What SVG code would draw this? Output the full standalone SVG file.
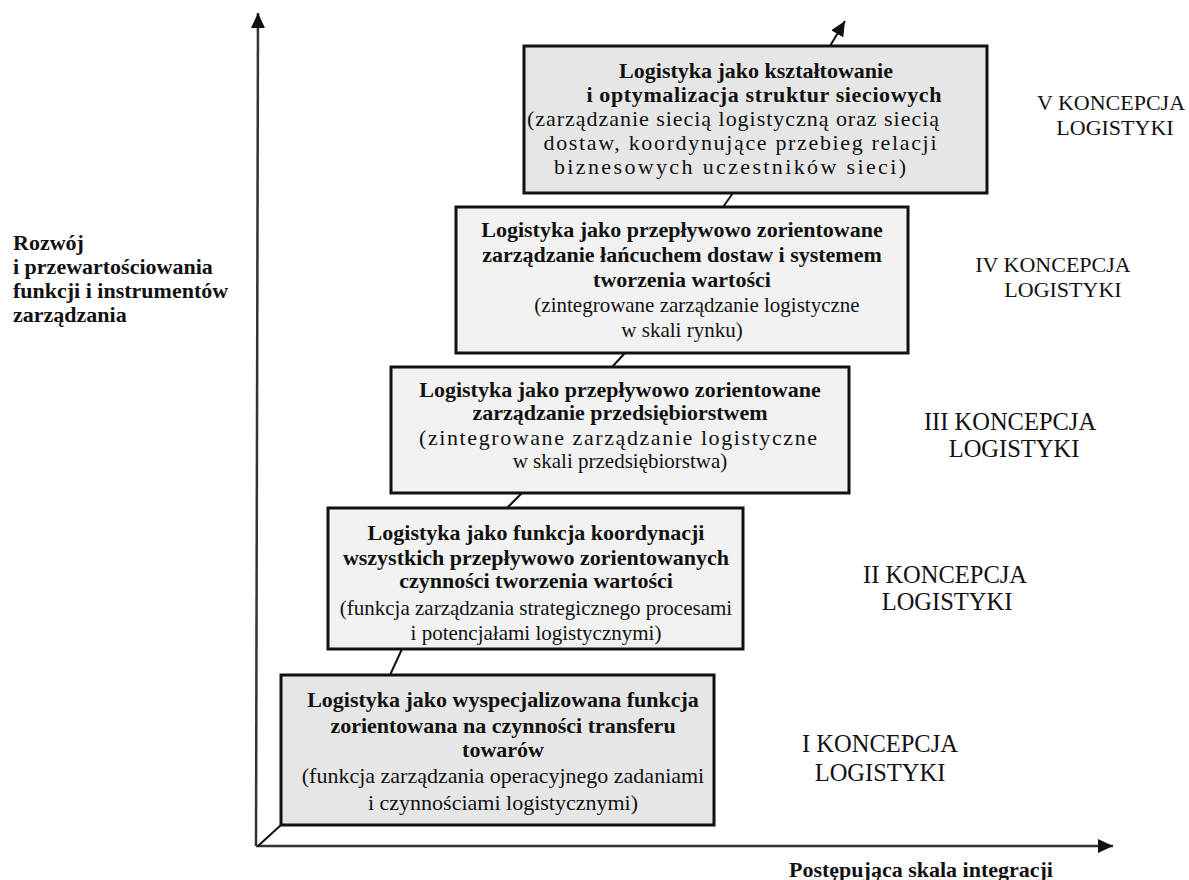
<svg xmlns="http://www.w3.org/2000/svg" width="1189" height="880" viewBox="0 0 1189 880">
<style>
.box{stroke:#111;stroke-width:3}
.dark{fill:#e6e6e6}
.light{fill:#f2f2f2}
.b{font-family:"Liberation Serif","Times New Roman",serif;font-weight:bold;font-size:22px;fill:#111;text-anchor:middle}
.r{font-family:"Liberation Serif","Times New Roman",serif;font-size:21px;fill:#111;text-anchor:middle}
.rv{font-family:"Liberation Serif","Times New Roman",serif;font-size:22px;fill:#111;text-anchor:middle}
.lab{font-family:"Liberation Serif","Times New Roman",serif;font-size:22px;fill:#111;text-anchor:middle}
.lab2{font-family:"Liberation Serif","Times New Roman",serif;font-size:24.5px;fill:#111;text-anchor:middle}
.ax{font-family:"Liberation Serif","Times New Roman",serif;font-weight:bold;font-size:22px;fill:#111}
.axl{stroke:#333;stroke-width:2.5;fill:none}
.con{stroke:#111;stroke-width:2;fill:none}
</style>
<defs>
<marker id="ah" markerUnits="userSpaceOnUse" markerWidth="16" markerHeight="16" refX="15" refY="7" orient="auto">
<path d="M0,0 L15,7 L0,14 Z" fill="#111"/>
</marker>
</defs>

<g id="axes">
<line class="axl" x1="256" y1="846" x2="258" y2="13" marker-end="url(#ah)"/>
<line class="axl" x1="256" y1="846" x2="1113" y2="846" marker-end="url(#ah)"/>
</g>

<g id="connectors">
<line class="con" x1="258" y1="846" x2="281" y2="825"/>
<line class="con" x1="390" y1="675" x2="402" y2="649"/>
<line class="con" x1="507" y1="508" x2="522" y2="493"/>
<line class="con" x1="612" y1="367" x2="625" y2="353"/>
<line class="con" x1="723" y1="207" x2="733" y2="193"/>
<line class="con" x1="830" y1="46" x2="845" y2="21" marker-end="url(#ah)"/>
</g>

<g id="box1">
<rect class="box dark" x="281" y="675" width="433" height="150"/>
<text class="b" x="503" y="707">Logistyka jako wyspecjalizowana funkcja</text>
<text class="b" x="503" y="733">zorientowana na czynności transferu</text>
<text class="b" x="503" y="757">towarów</text>
<text class="r" x="503" y="783" style="font-size:22px">(funkcja zarządzania operacyjnego zadaniami</text>
<text class="r" x="503" y="810" style="font-size:22px">i czynnościami logistycznymi)</text>
</g>

<g id="box2">
<rect class="box light" x="328" y="508" width="415" height="141"/>
<text class="b" x="536" y="540">Logistyka jako funkcja koordynacji</text>
<text class="b" x="536" y="565">wszystkich przepływowo zorientowanych</text>
<text class="b" x="536" y="588">czynności tworzenia wartości</text>
<text class="r" x="536" y="615">(funkcja zarządzania strategicznego procesami</text>
<text class="r" x="536" y="640">i potencjałami logistycznymi)</text>
</g>

<g id="box3">
<rect class="box light" x="391" y="367" width="458" height="126"/>
<text class="b" x="620" y="397">Logistyka jako przepływowo zorientowane</text>
<text class="b" x="620" y="420">zarządzanie przedsiębiorstwem</text>
<text class="r" x="618" y="445" style="font-size:22px" textLength="398">(zintegrowane zarządzanie logistyczne</text>
<text class="r" x="620" y="468">w skali przedsiębiorstwa)</text>
</g>

<g id="box4">
<rect class="box light" x="456" y="207" width="452" height="146"/>
<text class="b" x="682" y="237">Logistyka jako przepływowo zorientowane</text>
<text class="b" x="682" y="262">zarządzanie łańcuchem dostaw i systemem</text>
<text class="b" x="682" y="287">tworzenia wartości</text>
<text class="r" x="697" y="312">(zintegrowane zarządzanie logistyczne</text>
<text class="r" x="682" y="337">w skali rynku)</text>
</g>

<g id="box5">
<rect class="box dark" x="524" y="46" width="463" height="147"/>
<text class="b" x="756" y="78">Logistyka jako kształtowanie</text>
<text class="b" x="764" y="102" textLength="355">i optymalizacja struktur sieciowych</text>
<text class="rv" x="733" y="126" textLength="412">(zarządzanie siecią logistyczną oraz siecią</text>
<text class="rv" x="740" y="150" textLength="393">dostaw, koordynujące przebieg  relacji</text>
<text class="rv" x="730" y="174" textLength="352">biznesowych uczestników sieci)</text>
</g>

<g id="label-y">
<text class="ax" x="13" y="250">Rozwój</text>
<text class="ax" x="13" y="274">i przewartościowania</text>
<text class="ax" x="13" y="298">funkcji i instrumentów</text>
<text class="ax" x="13" y="322">zarządzania</text>
</g>

<g id="label-x">
<text class="ax" x="789" y="877">Postępująca skala integracji</text>
</g>

<g id="concepts">
<text class="lab" x="1111" y="110">V KONCEPCJA</text>
<text class="lab" x="1115" y="135">LOGISTYKI</text>
<text class="lab" x="1053" y="272">IV KONCEPCJA</text>
<text class="lab" x="1063" y="297">LOGISTYKI</text>
<text class="lab2" x="1010" y="430">III KONCEPCJA</text>
<text class="lab2" x="1014" y="457">LOGISTYKI</text>
<text class="lab2" x="945" y="583">II KONCEPCJA</text>
<text class="lab2" x="947" y="610">LOGISTYKI</text>
<text class="lab2" x="880" y="752">I KONCEPCJA</text>
<text class="lab2" x="880" y="781">LOGISTYKI</text>
</g>
</svg>
